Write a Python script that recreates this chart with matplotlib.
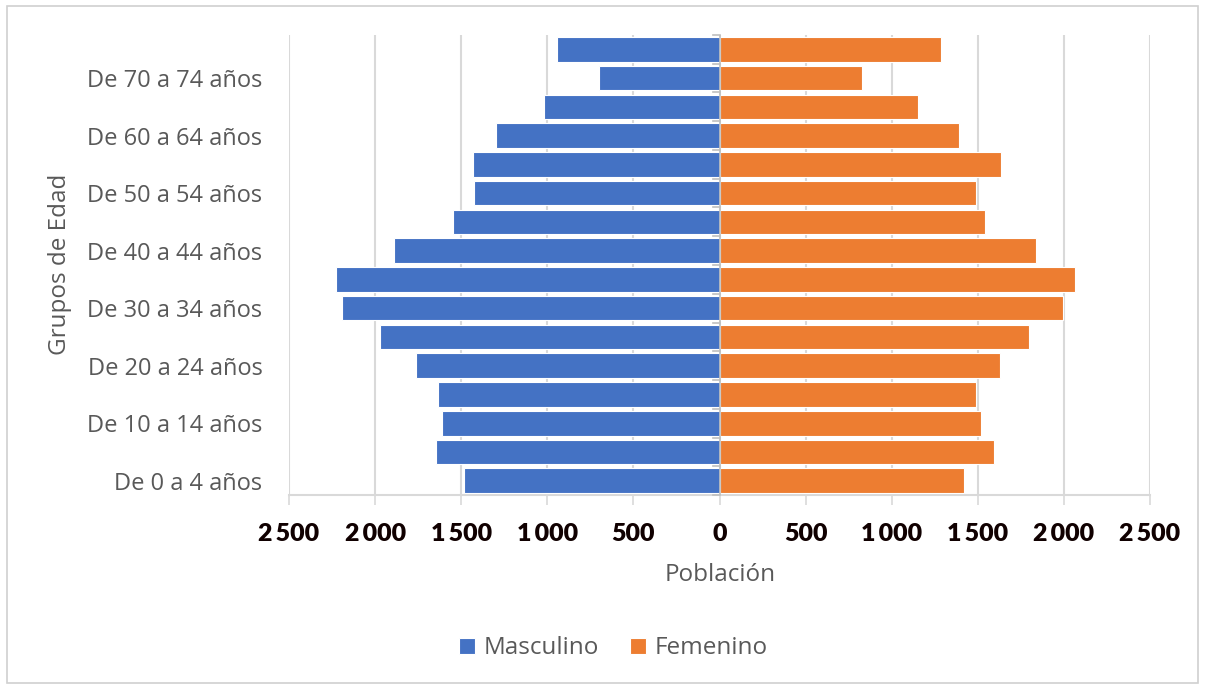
import numpy as np
import matplotlib
matplotlib.use("Agg")
import matplotlib.pyplot as plt
from matplotlib.ticker import FuncFormatter, FixedLocator
from matplotlib.patches import Rectangle

# grupos quinquenales, de menor a mayor edad
grupos = ["De 0 a 4 años", "De 5 a 9 años", "De 10 a 14 años", "De 15 a 19 años",
          "De 20 a 24 años", "De 25 a 29 años", "De 30 a 34 años", "De 35 a 39 años",
          "De 40 a 44 años", "De 45 a 49 años", "De 50 a 54 años", "De 55 a 59 años",
          "De 60 a 64 años", "De 65 a 69 años", "De 70 a 74 años", "De 75 años y más"]
masculino = [1483, 1646, 1609, 1636, 1760, 1971, 2194, 2229,
             1890, 1549, 1423, 1429, 1299, 1019, 699, 943]
femenino = [1419, 1595, 1517, 1492, 1630, 1798, 1994, 2062,
            1839, 1543, 1488, 1634, 1388, 1151, 827, 1285]
xticks = [-2500, -2000, -1500, -1000, -500, 0, 500, 1000, 1500, 2000, 2500]

azul = "#4472C4"
naranja = "#ED7D31"
gris = "#595959"
grid_c = "#D9D9D9"

plt.rcParams["font.family"] = ["Open Sans", "DejaVu Sans"]

fig = plt.figure(figsize=(12.05, 6.86), dpi=100)
ax = fig.add_axes([0.2398, 0.2784, 0.7146, 0.6706])

y = np.arange(len(grupos))
ax.barh(y, -np.array(masculino), height=0.86, color=azul, edgecolor="white", linewidth=0.8,
        label="Masculino", zorder=3)
ax.barh(y, femenino, height=0.86, color=naranja, edgecolor="white", linewidth=0.8,
        label="Femenino", zorder=3)

ax.set_xlim(-2500, 2500)
ax.set_ylim(-0.5, len(grupos) - 0.5)

# eje x
ax.xaxis.set_major_locator(FixedLocator(xticks))
ax.xaxis.set_major_formatter(FuncFormatter(lambda v, p: f"{abs(int(v)):,}".replace(",", "\u2009")))
ax.tick_params(axis="x", length=7, width=1.2, color=grid_c, pad=13, labelsize=18)
for t in ax.get_xticklabels():
    t.set_fontfamily(["Lato", "DejaVu Sans"])
    t.set_fontweight("heavy")
    t.set_color("#100000")
ax.grid(axis="x", color=grid_c, linewidth=1.5, zorder=0)

# eje y: etiqueta cada dos grupos
ax.set_yticks(y[::2])
ax.set_yticklabels(grupos[::2])
ax.tick_params(axis="y", length=0, pad=19, labelsize=17, labelcolor=gris)

for s in ["top", "right", "left"]:
    ax.spines[s].set_visible(False)
ax.spines["bottom"].set_color(grid_c)
ax.spines["bottom"].set_linewidth(1.5)
ax.axvline(0, color="#BFBFBF", linewidth=1.2, zorder=4)
# marcas pequeñas en el eje central
for b in np.arange(len(grupos) + 1) - 0.5:
    ax.plot([-40, 0], [b, b], color="#BFBFBF", linewidth=1.2, zorder=4, clip_on=False)

fig.text(0.0498, 0.614, "Grupos de Edad", rotation=90, ha="center", va="center",
         fontsize=17.5, color=gris)
fig.text(0.5975, 0.162, "Población", ha="center", va="center", fontsize=17.5, color=gris)

fig.legend(loc="center", bbox_to_anchor=(0.509, 0.055), ncol=2, frameon=False,
           fontsize=17.5, labelcolor=gris, handlelength=0.65, handleheight=0.65,
           handletextpad=0.35, columnspacing=1.3)

fig.patches.append(Rectangle((0.006, 0.004), 0.988, 0.987, transform=fig.transFigure,
                             fill=False, edgecolor="#D0D0D0", linewidth=1.2))

fig.savefig("out.png", dpi=100)
